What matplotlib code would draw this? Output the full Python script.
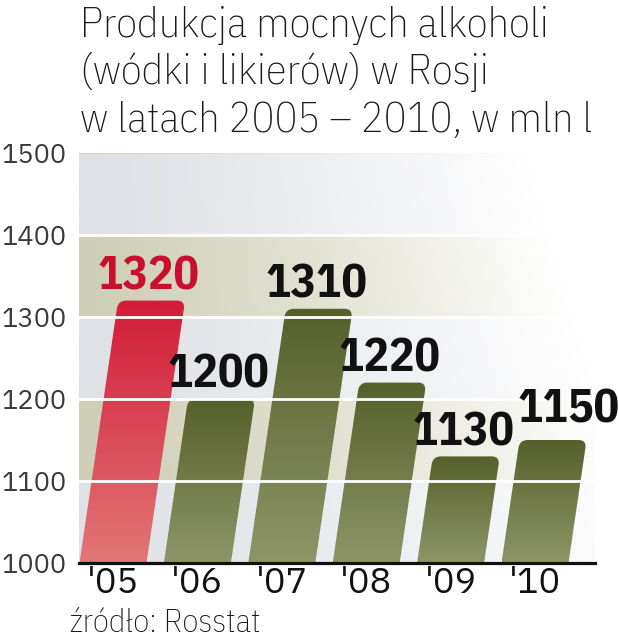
import matplotlib
matplotlib.use('Agg')
import matplotlib.pyplot as plt
import numpy as np
from matplotlib.path import Path
from matplotlib.patches import PathPatch
from matplotlib.colors import to_rgb

# ---- data ----
years = ["'05", "'06", "'07", "'08", "'09", "'10"]
values = [1320, 1200, 1310, 1220, 1130, 1150]
highlight = [True, False, False, False, False, False]
yticks = [1000, 1100, 1200, 1300, 1400, 1500]
title_lines = ["Produkcja mocnych alkoholi",
               "(wódki i likierów) w Rosji",
               "w latach 2005 \u2013 2010, w mln l"]
source = "źródło: Rosstat"

W, H = 619, 640
fig = plt.figure(figsize=(W / 100, H / 100), dpi=100)
ax_l, ax_r, ax_t, ax_b = 79, 595, 153, 563
ax = fig.add_axes([ax_l / W, 1 - ax_b / H, (ax_r - ax_l) / W, (ax_b - ax_t) / H])

px_per_unit = 84.4
x0 = -(113 - ax_l) / px_per_unit
x1 = x0 + (ax_r - ax_l) / px_per_unit
ymin, ymax = 1000, 1500
px_per_val = (ax_b - ax_t) / (ymax - ymin)

# ---- background bands with fade to white ----
nx, ny = 400, 500
xs = np.linspace(0, 1, nx)
vals = np.linspace(ymin, ymax, ny)
gray = np.array(to_rgb('#dfe1e6'))
beige = np.array(to_rgb('#cfcfb7'))
band_idx = np.floor((vals - ymin) / 100).astype(int)
base = np.where((band_idx % 2 == 1)[:, None], beige[None, :], gray[None, :])
vfrac = (vals - ymin) / (ymax - ymin)
fade = np.clip((xs[None, :] ** 1.25) * (0.85 + 0.35 * vfrac[:, None]), 0, 1)
img = base[:, None, :] * (1 - fade[..., None]) + fade[..., None] * 1.0
ax.imshow(img, extent=(x0, x1, ymin, ymax), origin='lower', aspect='auto',
          zorder=0, interpolation='bilinear')

# ---- slanted bars with rounded tops and gradients ----
bar_w = 67 / px_per_unit
slant = 0.147 * px_per_val / px_per_unit  # x-units per value unit
rx = 8 / px_per_unit
ry = 8 / px_per_val

olive_top, olive_bot = np.array(to_rgb('#56602a')), np.array(to_rgb('#8e9668'))
red_top, red_bot = np.array(to_rgb('#d21c38')), np.array(to_rgb('#e27676'))

for i, (v, hl) in enumerate(zip(values, highlight)):
    xl, xr = i - bar_w / 2, i + bar_w / 2
    dx = slant * (v - ymin)
    xtl, xtr = xl + dx, xr + dx
    verts = [(xl, ymin),
             (xtl - slant * ry, v - ry),
             (xtl, v), (xtl + rx, v),
             (xtr - rx, v),
             (xtr, v), (xtr - slant * ry, v - ry),
             (xr, ymin),
             (xl, ymin)]
    codes = [Path.MOVETO, Path.LINETO, Path.CURVE3, Path.CURVE3, Path.LINETO,
             Path.CURVE3, Path.CURVE3, Path.LINETO, Path.CLOSEPOLY]
    patch = PathPatch(Path(verts, codes), facecolor='none', edgecolor='none', zorder=2)
    ax.add_patch(patch)
    top, bot = (red_top, red_bot) if hl else (olive_top, olive_bot)
    t = np.linspace(0, 1, 200)[:, None]
    grad = (bot * (1 - t) + top * t)[:, None, :]
    im = ax.imshow(grad, extent=(xl, xtr, ymin, v), origin='lower', aspect='auto',
                   zorder=2, interpolation='bilinear')
    im.set_clip_path(patch)

    # value label
    off_x = 15 if i == len(values) - 1 else -3
    off_y = 17 if i == len(values) - 1 else 11
    ax.annotate(str(v), xy=(i + slant * (v - ymin), v), xytext=(off_x * 0.72, off_y * 0.72),
                textcoords='offset points', ha='center', va='baseline',
                fontsize=34, fontweight='bold', family='IBM Plex Sans Condensed',
                color='#c8102e' if hl else '#111111', zorder=5)

# white gridlines
for y in yticks[1:-1]:
    ax.axhline(y, color='white', lw=2.0, zorder=3)

ax.set_xlim(x0, x1)
ax.set_ylim(ymin, ymax)
for s in ['left', 'right', 'top']:
    ax.spines[s].set_visible(False)
ax.spines['bottom'].set_linewidth(2.3)
ax.spines['bottom'].set_color('#111111')
ax.spines['bottom'].set_zorder(6)

ax.set_yticks(yticks)
ax.set_yticklabels([str(y) for y in yticks], family='IBM Plex Sans',
                   fontsize=19.5, color='#3a3a3a')
ax.set_xticks(range(len(years)))
ax.set_xticklabels(years, family='IBM Plex Sans', fontsize=26, color='#111111')
ax.tick_params(axis='both', length=0)
ax.tick_params(axis='y', pad=9)
ax.tick_params(axis='x', pad=2)

# title
baselines = [37, 84, 132]
for line, b in zip(title_lines, baselines):
    fig.text(80 / W, 1 - b / H, line, ha='left', va='baseline',
             family='IBM Plex Sans Condensed', fontweight='light', fontsize=30.5, color='#1a1a1a')

fig.text(70 / W, 1 - 632 / H, source, ha='left', va='baseline',
         family='IBM Plex Sans Condensed', fontweight='light', fontsize=23.5, color='#1a1a1a')

fig.savefig('out.png', dpi=100)
